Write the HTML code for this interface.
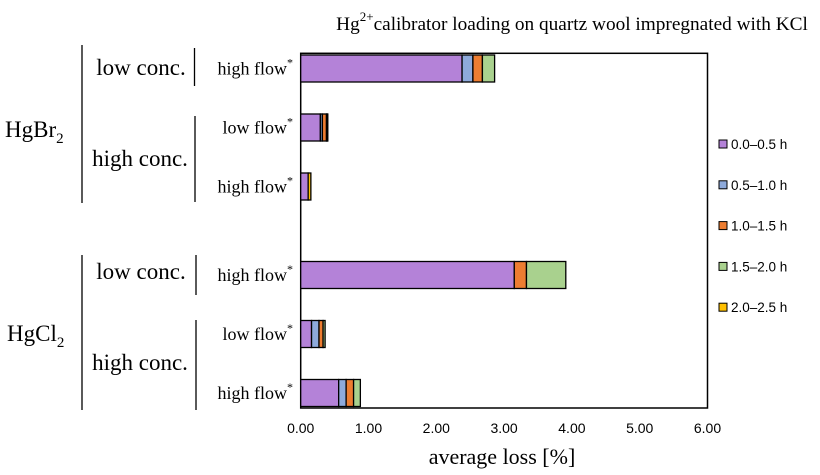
<!DOCTYPE html>
<html><head><meta charset="utf-8"><style>
body{margin:0;background:#fff}
svg{display:block}
.s{font-family:"Liberation Serif",serif;fill:#000}
.t{font-family:"Liberation Sans",sans-serif;fill:#000}
</style></head><body>
<svg id="chart" width="820" height="475" viewBox="0 0 820 475">
<text class="s" x="572" y="30" font-size="19.3" text-anchor="middle">Hg<tspan font-size="13" dy="-9">2+</tspan><tspan dy="9">calibrator loading on quartz wool impregnated with KCl</tspan></text>
<rect x="300.7" y="53.3" width="406.8" height="354.7" fill="none" stroke="#000" stroke-width="1.5"/>
<g id="bars"></g>
<g id="xticks"></g>
<text class="s" x="502" y="464" font-size="22" text-anchor="middle">average loss [%]</text>
<g id="cats"></g>
<g stroke="#000" stroke-width="1.3">
<line x1="82" y1="45" x2="82" y2="203"/><line x1="194.5" y1="48" x2="194.5" y2="86"/><line x1="195" y1="116" x2="195" y2="202"/>
<line x1="82" y1="255" x2="82" y2="410"/><line x1="196" y1="255" x2="196" y2="295"/><line x1="196" y1="320" x2="196" y2="410"/>
</g>
<text class="s" x="5" y="137" font-size="23">HgBr<tspan font-size="15" dy="6">2</tspan></text>
<text class="s" x="7" y="341" font-size="23">HgCl<tspan font-size="15" dy="6">2</tspan></text>
<text class="s" x="141" y="75" font-size="23" text-anchor="middle">low conc.</text>
<text class="s" x="140" y="166" font-size="23" text-anchor="middle">high conc.</text>
<text class="s" x="141" y="279" font-size="23" text-anchor="middle">low conc.</text>
<text class="s" x="140" y="370" font-size="23" text-anchor="middle">high conc.</text>
<g id="legend"></g>
</svg>
<script>
const categories=["high flow*","low flow*","high flow*","high flow*","low flow*","high flow*"];
const s00=[2.38,0.29,0.11,3.15,0.16,0.56];
const s05=[0.16,0.03,0.00,0.00,0.11,0.11];
const s10=[0.14,0.06,0.00,0.18,0.06,0.11];
const s15=[0.18,0.01,0.00,0.58,0.03,0.10];
const s20=[0.00,0.01,0.04,0.00,0.00,0.00];
const seriesNames=["0.0–0.5 h","0.5–1.0 h","1.0–1.5 h","1.5–2.0 h","2.0–2.5 h"];
const tickVals=[0,1,2,3,4,5,6];
const tickLabels=["0.00","1.00","2.00","3.00","4.00","5.00","6.00"];
const series=[s00,s05,s10,s15,s20];
const colors=["#b482d8","#8eaadb","#ed7d31","#a9d18e","#ffc000"];
const NS="http://www.w3.org/2000/svg";
const x0=300.7,x1=707.5,xmax=6,firstCenter=68.5,step=59;
const xs=v=>x0+v/xmax*(x1-x0);
const yc=i=>firstCenter+step*(i+(i>=3?0.5:0));
function mk(tag,attrs,par){const e=document.createElementNS(NS,tag);for(const k in attrs)e.setAttribute(k,attrs[k]);par.appendChild(e);return e;}
const bars=document.getElementById('bars');
categories.forEach((c,i)=>{
  let acc=0;
  series.forEach((s,j)=>{
    const v=s[i]; if(v<=0){return;}
    const r=mk('rect',{x:xs(acc),y:yc(i)-13.5,width:xs(acc+v)-xs(acc),height:27,fill:colors[j],stroke:'#000','stroke-width':1.3},bars);
    
    
    acc+=v;
  });
  const t=mk('text',{class:'s',x:293,y:yc(i)+6,'font-size':18,'text-anchor':'end'},document.getElementById('cats'));
  
  
  t.textContent=c.replace('*','');
  const sp=mk('tspan',{'font-size':12,dy:-8},t);sp.textContent='*';
});
const xt=document.getElementById('xticks');
tickVals.forEach((v,i)=>{
  const t=mk('text',{class:'t',x:xs(v),y:433,'font-size':14,'text-anchor':'middle'},xt);
  
  
  t.textContent=tickLabels[i];
});
const lg=document.getElementById('legend');
seriesNames.forEach((n,j)=>{
  const y=144+j*40.8;
  const r=mk('rect',{x:719,y:y-4,width:8,height:8,fill:colors[j],stroke:'#000','stroke-width':1},lg);
  
  
  const t=mk('text',{class:'t',x:731,y:y+5,'font-size':13.5},lg);
  
  
  t.textContent=n;
});
</script>
</body></html>
